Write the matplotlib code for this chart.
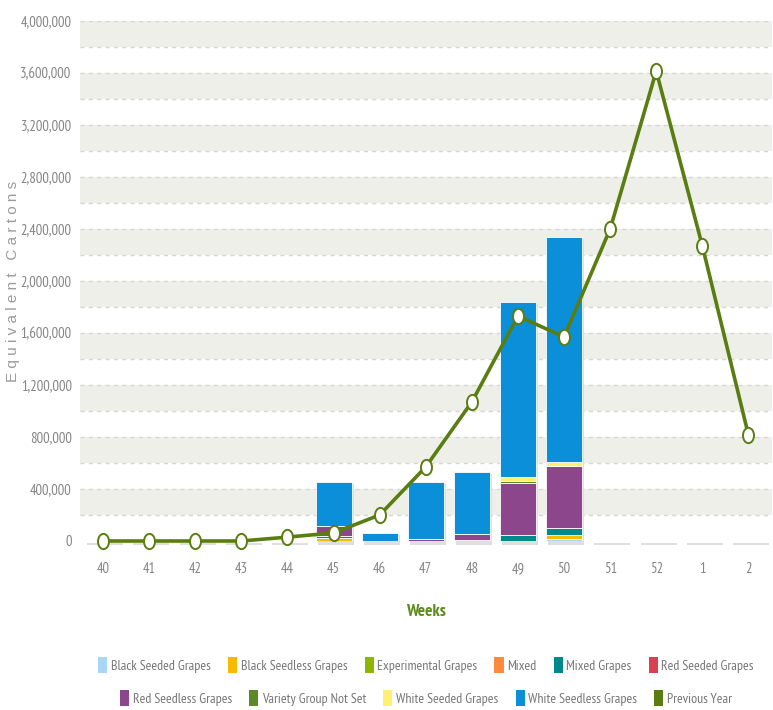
import matplotlib
matplotlib.use("Agg")
import matplotlib.pyplot as plt
import numpy as np
from matplotlib.path import Path
from matplotlib.transforms import Affine2D
from matplotlib.patches import Patch

weeks = ['40', '41', '42', '43', '44', '45', '46', '47', '48', '49', '50', '51', '52', '1', '2']

black_seeded = [0, 0, 0, 0, 0, 0, 0, 0, 5000, 0, 15000, 0, 0, 0, 0]
black_seedless = [0, 0, 0, 0, 0, 20000, 0, 0, 0, 0, 30000, 0, 0, 0, 0]
experimental = [0] * 15
mixed = [0] * 15
mixed_grapes = [0, 0, 0, 0, 0, 15000, 0, 0, 0, 45000, 55000, 0, 0, 0, 0]
red_seeded = [0] * 15
red_seedless = [0, 0, 0, 0, 0, 80000, 0, 15000, 50000, 405000, 480000, 0, 0, 0, 0]
variety_not_set = [0, 0, 0, 0, 0, 0, 0, 0, 0, 15000, 0, 0, 0, 0, 0]
white_seeded = [0, 0, 0, 0, 0, 0, 0, 0, 0, 25000, 30000, 0, 0, 0, 0]
white_seedless = [0, 0, 0, 0, 0, 335000, 58000, 440000, 475000, 1350000, 1730000, 0, 0, 0, 0]
previous_year = [0, 0, 0, 0, 30000, 62000, 200000, 570000, 1070000, 1730000, 1570000,
                 2400000, 3615000, 2270000, 815000]

series_names = ['Black Seeded Grapes', 'Black Seedless Grapes', 'Experimental Grapes', 'Mixed',
                'Mixed Grapes', 'Red Seeded Grapes', 'Red Seedless Grapes', 'Variety Group Not Set',
                'White Seeded Grapes', 'White Seedless Grapes']
series_values = [black_seeded, black_seedless, experimental, mixed, mixed_grapes, red_seeded,
                 red_seedless, variety_not_set, white_seeded, white_seedless]
series_colors = ['#A9D6F5', '#F7BA00', '#8DB600', '#FF8A3D', '#00898A', '#D9414F',
                 '#8C468C', '#5A8A26', '#FFF06E', '#0A8FD8']
line_color = '#5A7D12'

NARROW = ['PT Sans Narrow', 'Roboto Condensed', 'DejaVu Sans']
plt.rcParams['font.family'] = NARROW

fig = plt.figure(figsize=(7.73, 7.10), dpi=100)
ax = fig.add_axes([80 / 773, 1 - 541 / 710, 691.5 / 773, 520 / 710])

x = np.arange(len(weeks))
ymax = 4000000

# background bands and dashed grid
for v in range(400000, ymax + 1, 400000):
    ax.axhspan(v - 200000, v, color='#EFEFE9', zorder=0, lw=0)
for v in range(200000, ymax + 1, 200000):
    ax.axhline(v, color='#D6D6D2', lw=1, ls=(0, (3, 3)), zorder=0.5)

width = 0.78
totals = np.sum(np.array(series_values), axis=0)
# shadows
ax.bar(x + 0.05, totals + 12000, bottom=-27000, width=width, color='#DCDCDC', zorder=1,
       lw=0, clip_on=False, alpha=0.9)

bottom = np.zeros(len(weeks))
for name, vals, col in zip(series_names, series_values, series_colors):
    vals = np.array(vals, dtype=float)
    ax.bar(x, vals, bottom=bottom, width=width, color=col, edgecolor='white', linewidth=0.6,
           zorder=2)
    bottom += vals

ell = Path.unit_circle().transformed(Affine2D().scale(0.72, 1.0))
ax.plot(x, previous_year, color=line_color, lw=2.6, zorder=4, clip_on=False)
ax.plot(x, previous_year, ls='none', marker=ell, markersize=11, markerfacecolor='white',
        markeredgecolor=line_color, markeredgewidth=1.4, zorder=5, clip_on=False)

ax.set_xlim(-0.5, len(weeks) - 0.5)
ax.set_ylim(0, ymax)
ax.set_xticks(x)
ax.set_xticklabels(weeks)
yt = list(range(0, ymax + 1, 400000))
ax.set_yticks(yt)
ax.set_yticklabels([f'{v:,}' for v in yt])
ax.tick_params(axis='both', length=0, labelsize=10.5, labelcolor='#858585')
ax.tick_params(axis='x', pad=15)
ax.tick_params(axis='y', pad=6)
for s in ax.spines.values():
    s.set_visible(False)

fig.text(426 / 773, 1 - 612 / 710, 'Weeks', ha='center', va='center', color='#5F8A1E',
         fontsize=12.5, fontweight='bold')
fig.text(13 / 773, 1 - 281 / 710, 'E q u i v a l e n t   C a r t o n s', rotation=90,
         ha='center', va='center', color='#9A9A9A', fontsize=11,
         family=['Liberation Sans', 'DejaVu Sans'])

handles = [Patch(facecolor=c, edgecolor='none') for c in series_colors] + \
          [Patch(facecolor=line_color, edgecolor='none')]
labels = series_names + ['Previous Year']

common = dict(frameon=False, handlelength=0.65, handleheight=1.35, handletextpad=0.25,
              columnspacing=1.25, fontsize=10, labelcolor='#777777', borderaxespad=0,
              borderpad=0)
leg1 = fig.legend(handles[:6], labels[:6], ncol=6, loc='center',
                  bbox_to_anchor=(426 / 773, 1 - 665 / 710), **common)
leg2 = fig.legend(handles[6:], labels[6:], ncol=5, loc='center',
                  bbox_to_anchor=(426 / 773, 1 - 698 / 710), **common)

fig.savefig('out.png', dpi=100, facecolor='white')
